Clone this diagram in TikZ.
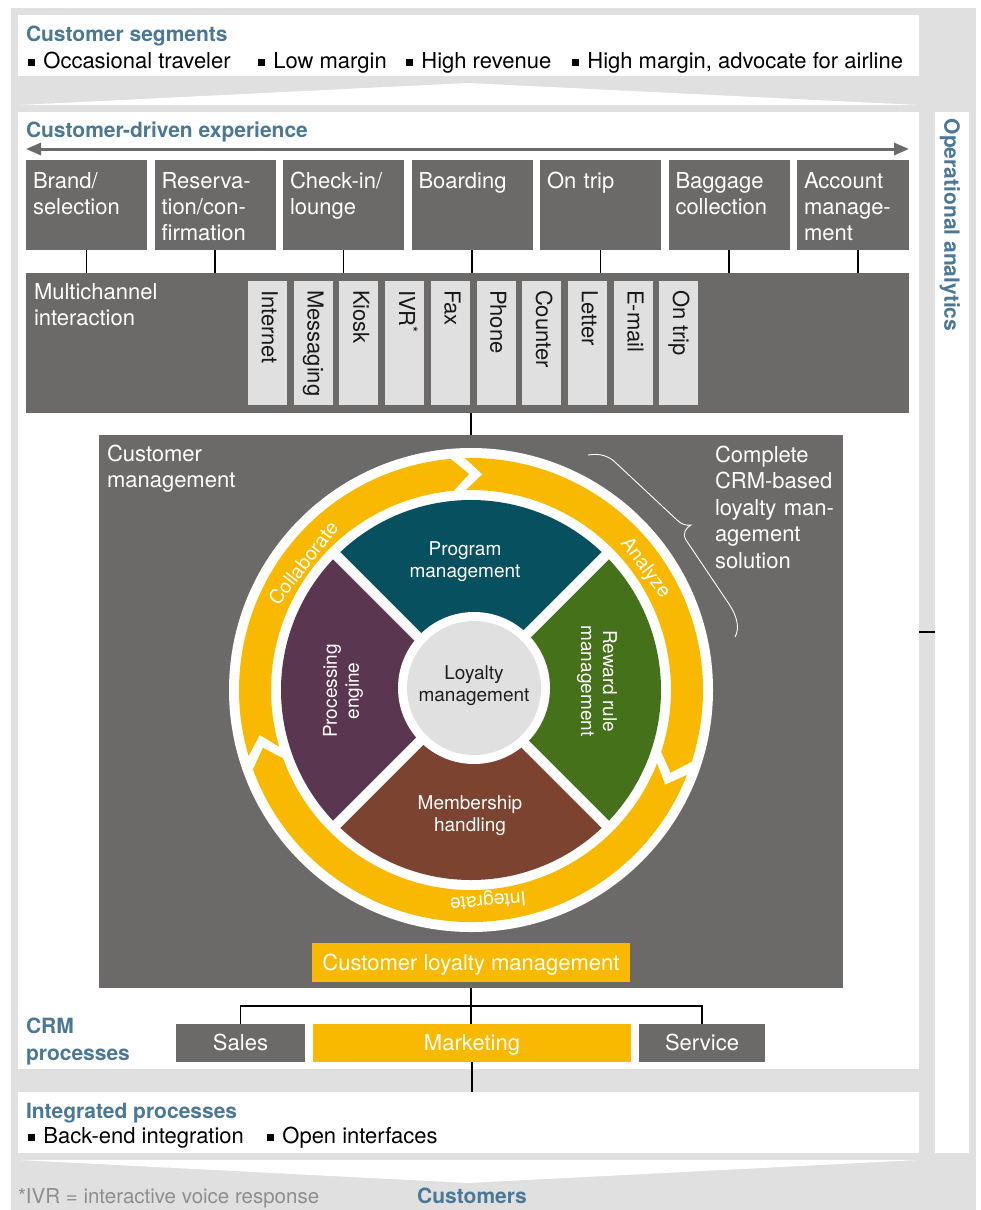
\documentclass[tikz,border=0pt]{standalone}
\usepackage{fontspec}
\setmainfont{TeX Gyre Heros}
\usetikzlibrary{arrows.meta,calc}
\definecolor{bgg}{HTML}{DFE0DF}
\definecolor{dg}{HTML}{6B6A68}
\definecolor{tb}{HTML}{4A7896}
\definecolor{yl}{HTML}{F9B900}
\definecolor{cteal}{HTML}{075060}
\definecolor{cgreen}{HTML}{46711B}
\definecolor{cbrown}{HTML}{7D4331}
\definecolor{cpurple}{HTML}{5B3650}
\definecolor{fng}{HTML}{8E8E8E}
\newcommand\mainfs{\fontsize{22}{26}\selectfont}
\newcommand\circfs{\fontsize{19}{22}\selectfont}
\newcommand\ringfs{\fontsize{19.5}{22}\selectfont}
\newcommand\ttlfs{\fontsize{21}{25}\selectfont\bfseries}
\newcommand\bul{\rule[0.1em]{0.32em}{0.32em}\hspace{0.38em}}
\begin{document}
\begin{tikzpicture}[x=1pt,y=-1pt,
  every node/.style={inner sep=0pt, outer sep=0pt},
  box/.style={anchor=north west},
  dgbox/.style={box, fill=dg},
  wbox/.style={box, fill=white},
  lgbox/.style={box, fill=bgg},
  ybox/.style={box, fill=yl},
  conn/.style={draw=black, line width=1.8pt},
  ttl/.style={font=\ttlfs, text=tb, anchor=base west},
  btxt/.style={font=\mainfs, text=white, anchor=base west, text width=#1, align=left},
  ltxt/.style={font=\mainfs, text=black, anchor=base west},
  chtxt/.style={font=\mainfs, text=black!90, rotate=-90, anchor=west, text height=15.8pt, text depth=4.6pt},
  ctxt/.style={font=\circfs, text=white, align=center},
  rtxt/.style={font=\ringfs, text=white},
  boxtxt/.style={font=\mainfs, text=white, text height=15.8pt, text depth=0.8pt},
]
\useasboundingbox (0,0) rectangle (981,1210);
\fill[white] (0,0) rectangle (981,1210);
\fill[bgg] (11,8) rectangle (976,1210);

% panels
\node[wbox, minimum width=901pt, minimum height=61pt] (seg) at (18,15) {};
\node[wbox, minimum width=901pt, minimum height=957pt] (cde) at (18,112) {};
\node[wbox, minimum width=901pt, minimum height=61pt] (ip) at (18,1092) {};
\node[wbox, minimum width=34pt, minimum height=1041pt] (oa) at (935,112) {};
\fill[white] (19,105) -- (468,83) -- (918,105) -- cycle;
\fill[white] (19,1160) -- (918,1160) -- (468,1183) -- cycle;

% customer segments
\node[ttl] at (26,41) {Customer segments};
\node[ltxt] at (28,68) {\bul Occasional traveler};
\node[ltxt] at (258,68) {\bul Low margin};
\node[ltxt] at (406,68) {\bul High revenue};
\node[ltxt] at (572,68) {\bul High margin, advocate for airline};

% operational analytics
\node[font=\ttlfs, text=tb, rotate=-90] at (950,225) {Operational analytics};
\coordinate (tk) at (927,632);
\draw[conn] (tk -| cde.east) -- (tk -| oa.west);

% customer-driven experience
\node[ttl] at (26,137) {Customer-driven experience};
\coordinate (a1) at (26,149);
\coordinate (a2) at (909,149);
\draw[dg, line width=3pt, {Triangle[length=15pt,width=12pt]}-{Triangle[length=15pt,width=12pt]}] (a1) -- (a2);

\node[dgbox, minimum width=121pt, minimum height=90pt] (b1) at (26,160) {};
\node[dgbox, minimum width=121pt, minimum height=90pt] (b2) at (154.5,160) {};
\node[dgbox, minimum width=121pt, minimum height=90pt] (b3) at (283,160) {};
\node[dgbox, minimum width=121pt, minimum height=90pt] (b4) at (411.5,160) {};
\node[dgbox, minimum width=121pt, minimum height=90pt] (b5) at (540,160) {};
\node[dgbox, minimum width=121pt, minimum height=90pt] (b6) at (668.5,160) {};
\node[dgbox, minimum width=112pt, minimum height=90pt] (b7) at (797,160) {};
\node[btxt=115pt] at ($(b1.north west)+(7,28)$) {Brand/\\selection};
\node[btxt=115pt] at ($(b2.north west)+(7,28)$) {Reserva-\\tion/con-\\firmation};
\node[btxt=115pt] at ($(b3.north west)+(7,28)$) {Check-in/\\lounge};
\node[btxt=115pt] at ($(b4.north west)+(7,28)$) {Boarding};
\node[btxt=115pt] at ($(b5.north west)+(7,28)$) {On trip};
\node[btxt=115pt] at ($(b6.north west)+(7,28)$) {Baggage\\collection};
\node[btxt=105pt] at ($(b7.north west)+(7,28)$) {Account\\manage-\\ment};

% multichannel
\node[dgbox, minimum width=883pt, minimum height=140pt] (mc) at (26,273) {};
\node[btxt=200pt] at (34,299) {Multichannel\\interaction};
\foreach \b in {b1,b2,b3,b4,b5,b6} {\draw[conn] (\b.south) -- (\b.south |- mc.north);}
\draw[conn] ([xshift=5pt]b7.south) -- ([xshift=5pt]b7.south |- mc.north);
\foreach \t [count=\i] in {Internet, Messaging, Kiosk, {IVR\textsuperscript{*}}, Fax, Phone, Counter, Letter, E-mail, On trip} {
  \node[lgbox, minimum width=39pt, minimum height=124pt] (c\i) at ({248+45.7*(\i-1)},281) {};
  \node[chtxt] at ($(c\i.north)+(0,9)$) {\t};
}

% customer management
\node[dgbox, minimum width=744pt, minimum height=553pt] (cm) at (99,435) {};
\draw[conn] (cm.north) -- (cm.north |- mc.south);
\node[btxt=200pt] at (107,461) {Customer\\management};
\node[btxt=130pt, font=\fontsize{22}{26.5}\selectfont] at (715,462) {Complete\\CRM-based\\loyalty man-\\agement\\solution};

\begin{scope}[shift={(471,690)}, yscale=-1]
  \fill[white] (0,0) circle (242);
  \fill[yl] (196.5:232) arc[start angle=196.5, end angle=95, radius=232] -- (90.5:216) -- (95:200) arc[start angle=95, end angle=196.5, radius=200] -- (192:216) -- cycle;
  \fill[yl] (91.5:232) arc[start angle=91.5, end angle=-18, radius=232] -- (-22.5:216) -- (-18:200) arc[start angle=-18, end angle=91.5, radius=200] -- (87:216) -- cycle;
  \fill[yl] (-21.5:232) arc[start angle=-21.5, end angle=-160, radius=232] -- (-164.5:216) -- (-160:200) arc[start angle=-160, end angle=-21.5, radius=200] -- (-26:216) -- cycle;
  \fill[cteal] (0,0) -- (45:190) arc[start angle=45, end angle=135, radius=190] -- cycle;
  \fill[cgreen] (0,0) -- (-45:190) arc[start angle=-45, end angle=45, radius=190] -- cycle;
  \fill[cbrown] (0,0) -- (225:190) arc[start angle=225, end angle=315, radius=190] -- cycle;
  \fill[cpurple] (0,0) -- (135:190) arc[start angle=135, end angle=225, radius=190] -- cycle;
  \draw[white, line width=10pt] (45:196) -- (225:196);
  \draw[white, line width=10pt] (135:196) -- (-45:196);
  \fill[white] (3,2) circle (76);
  \fill[bgg] (3,2) circle (67);
\end{scope}

\node[rtxt, rotate=52] at (303,563) {Collaborate};
\node[rtxt, rotate=-53] at (645,568) {Analyze};
\node[rtxt, rotate=185] at (488,900) {Integrate};
\node[ctxt, anchor=base, text width=160pt] at (465,555) {Program\\management};
\node[ctxt, anchor=base, text width=160pt] at (470,809) {Membership\\handling};
\node[ctxt, anchor=base, text width=140pt, text=black!88] at (474,679) {Loyalty\\management};
\node[ctxt, rotate=-90] at (597,681) {Reward rule\\management};
\node[ctxt, rotate=90] at (343,691) {Processing\\engine};

\draw[white, line width=0.9pt] (588,455) .. controls (600,453) and (609,456) .. (616,463) -- (677,520) .. controls (681,524) and (686,526) .. (691,525) .. controls (686,528) and (682,533) .. (686,540) -- (729,604) .. controls (737,616) and (740,628) .. (735,637);

% customer loyalty management
\node[ybox, minimum width=318pt, minimum height=39pt, boxtxt] (clm) at (312,943) {Customer loyalty management};

% CRM processes
\node[ttl, text width=150pt, align=left, font=\fontsize{21}{27}\selectfont\bfseries] at (26,1033) {CRM\\processes};
\node[dgbox, minimum width=129pt, minimum height=38pt, boxtxt] (sales) at (176,1024) {Sales};
\node[ybox, minimum width=318pt, minimum height=38pt, boxtxt] (mk) at (313,1024) {Marketing};
\node[dgbox, minimum width=126pt, minimum height=38pt, boxtxt] (serv) at (639,1024) {Service};
\coordinate (j) at (471,1006);
\draw[conn] (cm.south) -- (cm.south |- mk.north);
\draw[conn] (sales.north) |- (j) -| (serv.north);
\draw[conn] (mk.south) -- (mk.south |- ip.north);

% integrated processes
\node[ttl] at (26,1118) {Integrated processes};
\node[ltxt] at (28,1143) {\bul Back-end integration};
\node[ltxt] at (267,1143) {\bul Open interfaces};

\node[font=\fontsize{20.5}{24}\selectfont, text=fng, anchor=base west] at (18,1203) {*IVR = interactive voice response};
\node[font=\ttlfs, text=tb, anchor=base] at (472,1203) {Customers};
\end{tikzpicture}
\end{document}
